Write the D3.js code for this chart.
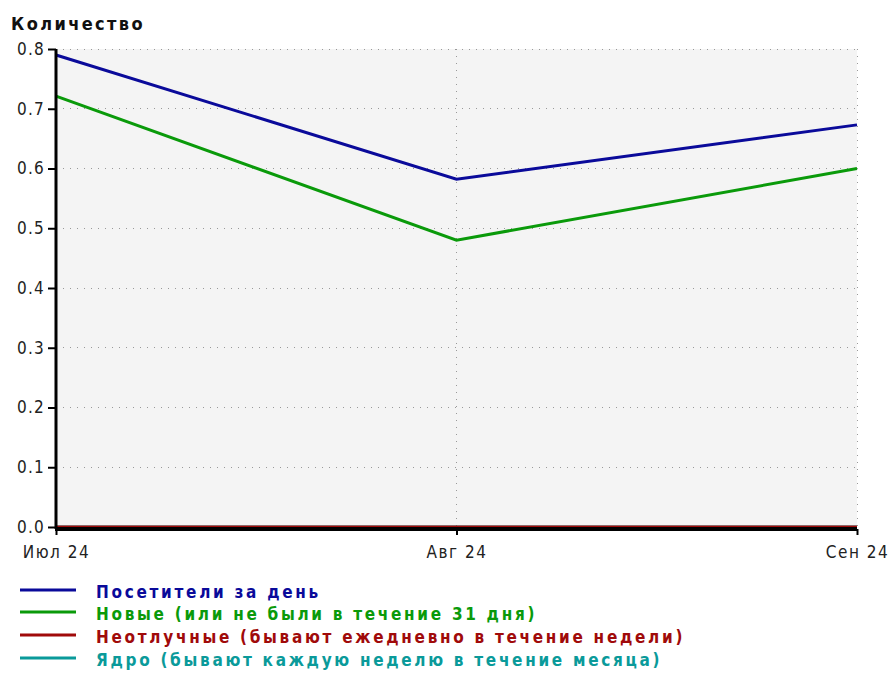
<!DOCTYPE html>
<html><head><meta charset="utf-8">
<script src="https://cdn.jsdelivr.net/npm/d3@7/dist/d3.min.js"></script>
<style>body{margin:0;background:#fff}svg{display:block}</style>
</head><body>
<svg id="c" width="891" height="673"></svg>
<script>
const categories = ["Июл 24", "Авг 24", "Сен 24"];
const visitors = [0.79, 0.582, 0.673];
const newcomers = [0.721, 0.48, 0.60];
const regulars = [0, 0, 0];
const core = [0, 0, 0];
const yTicks = [0.0, 0.1, 0.2, 0.3, 0.4, 0.5, 0.6, 0.7, 0.8];
const seriesNames = ["Посетители за день", "Новые (или не были в течение 31 дня)", "Неотлучные (бывают ежедневно в течение недели)", "Ядро (бывают каждую неделю в течение месяца)"];
const seriesColors = ["#0a0a9a", "#0a9a0a", "#a00a0a", "#0a9a9a"];
const seriesData = [visitors, newcomers, core, regulars];

const svg = d3.select("#c");
const font = "'DejaVu Sans Condensed', 'DejaVu Sans', sans-serif";
const L = 56, R = 857, T = 49, B = 527;
const x = d3.scalePoint().domain(categories).range([L, R]);
const y = d3.scaleLinear().domain([0, 0.8]).range([B, T]);

svg.append("rect").attr("x", L).attr("y", T).attr("width", R - L).attr("height", B - T).attr("fill", "#f4f4f4");

// grid
svg.append("g").selectAll("line").data(yTicks.filter(d => d > 0)).join("line")
  .attr("x1", L).attr("x2", R).attr("y1", d => y(d)).attr("y2", d => y(d))
  .attr("stroke", "#999").attr("stroke-width", 1).attr("stroke-dasharray", "1,6").attr("shape-rendering", "crispEdges");
svg.append("g").selectAll("line").data(categories.slice(1)).join("line")
  .attr("x1", d => x(d)).attr("x2", d => x(d)).attr("y1", T).attr("y2", B)
  .attr("stroke", "#999").attr("stroke-width", 1).attr("stroke-dasharray", "1,6").attr("shape-rendering", "crispEdges");

// lines
const line = d3.line().x((d, i) => x(categories[i])).y(d => y(d));
[1, 0, 3, 2].forEach(si => {
  svg.append("path").attr("d", line(seriesData[si])).attr("fill", "none")
    .attr("stroke", seriesColors[si]).attr("stroke-width", 3);
});

const styleText = (sel, size, ls, weight) => sel.attr("font-family", font).attr("font-stretch", "condensed")
  .attr("font-size", size).attr("letter-spacing", ls).attr("font-weight", weight || "normal");

// axes
const yAxis = d3.axisLeft(y).tickValues(yTicks).tickFormat(d3.format(".1f")).tickSize(8).tickPadding(3);
const gy = svg.append("g").attr("transform", `translate(${L},0)`).call(yAxis);
gy.select(".domain").attr("stroke", "#000").attr("stroke-width", 3).attr("d", `M0,${T}V${B + 2}`);
gy.selectAll(".tick line").attr("stroke", "#000").attr("stroke-width", 2);
styleText(gy.selectAll("text"), 17, 1.2).attr("fill", "#222");

const xAxis = d3.axisBottom(x).tickSize(6).tickPadding(11);
const gx = svg.append("g").attr("transform", `translate(0,${B + 2})`).call(xAxis);
gx.select(".domain").attr("stroke", "#000").attr("stroke-width", 4).attr("d", `M${L - 1},0H${R}`);
gx.selectAll(".tick line").attr("stroke", "#000").attr("stroke-width", 2);
styleText(gx.selectAll("text"), 17, 1.5).attr("fill", "#222");

// title
styleText(svg.append("text").attr("x", 11).attr("y", 30).text("Количество"), 18, 2.4, "bold").attr("fill", "#111");

// legend
const rowY = [590, 612, 635, 658];
seriesNames.forEach((name, i) => {
  svg.append("line").attr("x1", 20).attr("x2", 76).attr("y1", rowY[i]).attr("y2", rowY[i])
    .attr("stroke", seriesColors[i]).attr("stroke-width", 3);
  styleText(svg.append("text").attr("x", 96).attr("y", rowY[i] + 8).text(name), 17, 2.7, "bold")
    .attr("fill", seriesColors[i]);
});
</script>
</body></html>
